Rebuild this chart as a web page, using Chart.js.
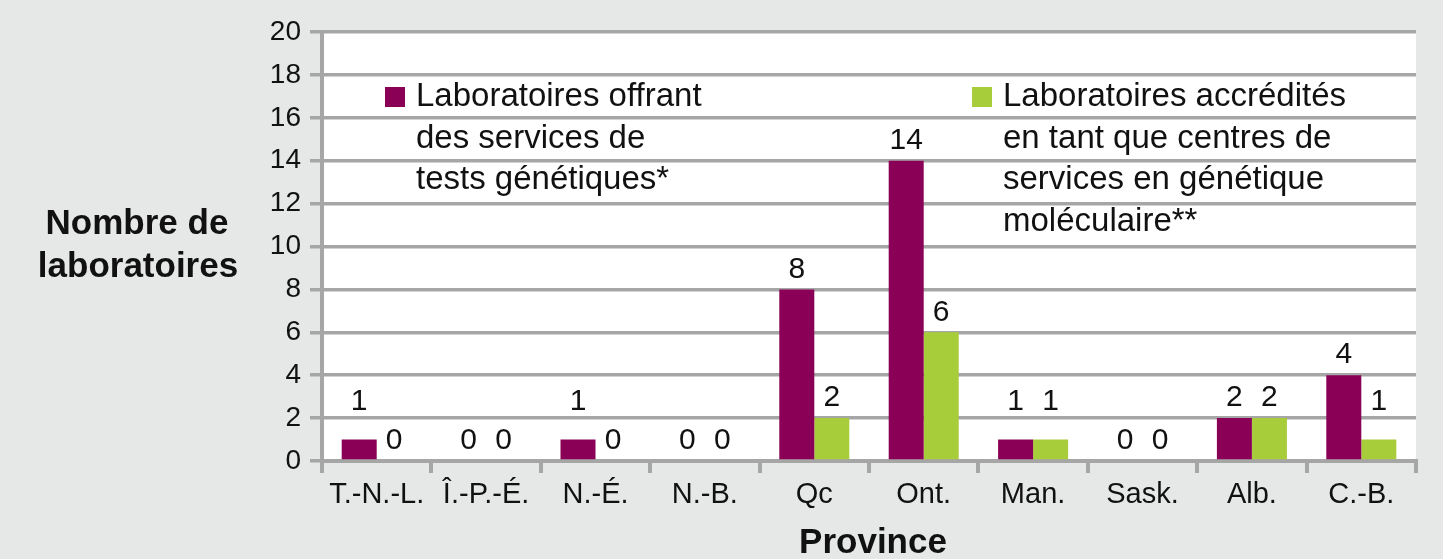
<!DOCTYPE html>
<html lang="fr">
<head>
  <meta charset="UTF-8">
  <title>Laboratoires de tests génétiques par province</title>
  <script src="https://cdn.jsdelivr.net/npm/chart.js"></script>
  <style>
    html, body { margin: 0; padding: 0; background: #e6e8e7; }
    #wrap { width: 1443px; height: 559px; }
  </style>
</head>
<body>
  <div id="wrap"><canvas id="graphique"></canvas></div>

  <script>
    const provinces = ["T.-N.-L.", "Î.-P.-É.", "N.-É.", "N.-B.", "Qc", "Ont.", "Man.", "Sask.", "Alb.", "C.-B."];
    const offrant = [1, 0, 1, 0, 8, 14, 1, 0, 2, 4];
    const accredites = [0, 0, 0, 0, 2, 6, 1, 0, 2, 1];
    const legendeOffrant = ["Laboratoires offrant", "des services de", "tests génétiques*"];
    const legendeAccredites = ["Laboratoires accrédités", "en tant que centres de", "services en génétique", "moléculaire**"];
    const titreY = ["Nombre de", "laboratoires"];
    const titreX = "Province";

    const violet = "#8a0057";
    const vert = "#a8cd3a";
    const gris = "#a6a6a6";
    const police = "'Liberation Sans', Arial, sans-serif";

    // fond blanc de la zone de tracé
    const fondZone = {
      id: "fondZone",
      beforeDraw(chart) {
        const { ctx, chartArea: a } = chart;
        ctx.save();
        ctx.fillStyle = "#ffffff";
        ctx.fillRect(a.left, a.top, a.right - a.left, a.bottom - a.top);
        ctx.restore();
      }
    };

    // étiquettes de valeur au-dessus des barres
    const etiquettes = {
      id: "etiquettes",
      afterDatasetsDraw(chart) {
        const ctx = chart.ctx;
        ctx.save();
        ctx.font = "30px " + police;
        ctx.fillStyle = "#111";
        ctx.textAlign = "center";
        ctx.textBaseline = "middle";
        chart.data.datasets.forEach((ds, i) => {
          chart.getDatasetMeta(i).data.forEach((bar, j) => {
            const v = ds.data[j];
            const decalage = v === 1 ? 38 : 20;
            ctx.fillText(String(v), bar.x, bar.y - decalage);
          });
        });
        ctx.restore();
      }
    };

    // légende dans la zone de tracé et titres des axes
    const textes = {
      id: "textes",
      afterDraw(chart) {
        const ctx = chart.ctx;
        ctx.save();
        ctx.textBaseline = "middle";

        function bloc(x, y, couleur, lignes) {
          ctx.fillStyle = couleur;
          ctx.fillRect(x, y - 10, 20, 20);
          ctx.fillStyle = "#111";
          ctx.font = "33px " + police;
          ctx.textAlign = "left";
          lignes.forEach((l, k) => ctx.fillText(l, x + 31, y + k * 41.5));
        }
        bloc(385, 97, violet, legendeOffrant);
        bloc(972, 97, vert, legendeAccredites);

        ctx.fillStyle = "#111";
        ctx.font = "bold 35px " + police;
        ctx.textAlign = "center";
        ctx.fillText(titreY[0], 137, 224);
        ctx.fillText(titreY[1], 138, 267);
        ctx.fillText(titreX, 873, 543);
        ctx.restore();
      }
    };

    new Chart(document.getElementById("graphique"), {
      type: "bar",
      data: {
        labels: provinces,
        datasets: [
          { label: legendeOffrant.join(" "), data: offrant, backgroundColor: violet },
          { label: legendeAccredites.join(" "), data: accredites, backgroundColor: vert }
        ]
      },
      options: {
        responsive: true,
        maintainAspectRatio: false,
        animation: false,
        layout: { padding: { top: 32, right: 27, left: 0, bottom: 0 } },
        categoryPercentage: 0.64,
        barPercentage: 1.0,
        plugins: {
          legend: { display: false },
          tooltip: { enabled: false }
        },
        scales: {
          x: {
            afterFit(scale) { scale.height = 98; },
            grid: { drawOnChartArea: false, drawTicks: true, tickLength: 12, color: gris, lineWidth: 4, offset: true },
            border: { color: gris, width: 4 },
            ticks: { color: "#111", font: { size: 29, family: police }, padding: 5, maxRotation: 0 }
          },
          y: {
            min: 0,
            max: 20,
            afterFit(scale) { scale.width = 322; },
            grid: { color: gris, lineWidth: 3.5, tickLength: 12 },
            border: { color: gris, width: 4 },
            ticks: { stepSize: 2, color: "#111", font: { size: 28, family: police }, padding: 9 }
          }
        }
      },
      plugins: [fondZone, etiquettes, textes]
    });
  </script>
</body>
</html>
